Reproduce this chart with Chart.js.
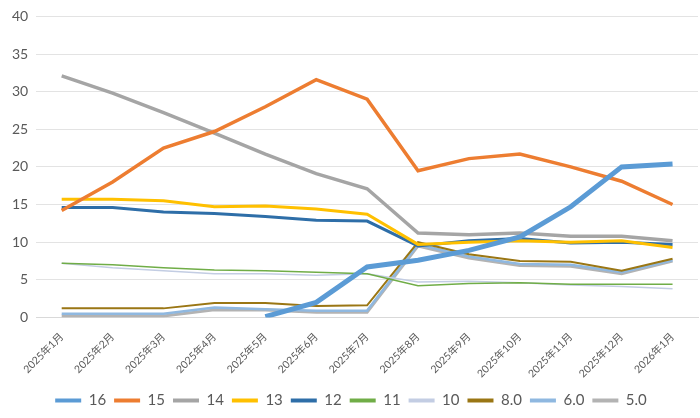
<!DOCTYPE html>
<html>
<head>
<meta charset="utf-8">
<script src="https://cdn.jsdelivr.net/npm/chart.js@4"></script>
<style>
  html, body { margin: 0; padding: 0; background: #fff; }
  #wrap { width: 700px; height: 418px; }
</style>
</head>
<body>
<div id="wrap"><canvas id="myChart"></canvas></div>
<script>
// months on x-axis
const months = ['2025年1月','2025年2月','2025年3月','2025年4月','2025年5月','2025年6月','2025年7月',
                '2025年8月','2025年9月','2025年10月','2025年11月','2025年12月','2026年1月'];

// version shares
const v16  = [null, null, null, null, 0.1, 2.0, 6.7, 7.6, 8.9, 10.7, 14.7, 20.0, 20.4];
const v15  = [14.2, 18.0, 22.5, 24.7, 28.0, 31.6, 29.0, 19.5, 21.1, 21.7, 20.0, 18.1, 15.0];
const v14  = [32.1, 29.8, 27.2, 24.5, 21.7, 19.1, 17.1, 11.2, 11.0, 11.2, 10.8, 10.8, 10.2];
const v13  = [15.7, 15.7, 15.5, 14.7, 14.8, 14.4, 13.7, 9.7, 10.0, 10.2, 10.0, 10.2, 9.3];
const v12  = [14.6, 14.6, 14.0, 13.8, 13.4, 12.9, 12.8, 9.5, 10.2, 10.5, 9.9, 10.0, 9.7];
const v11  = [7.2, 7.0, 6.6, 6.3, 6.2, 6.0, 5.8, 4.2, 4.5, 4.6, 4.4, 4.4, 4.4];
const v10  = [7.2, 6.6, 6.2, 5.8, 5.8, 5.6, 5.8, 4.7, 4.8, 4.6, 4.3, 4.1, 3.8];
const v8_0 = [1.2, 1.2, 1.2, 1.9, 1.9, 1.5, 1.6, 10.0, 8.4, 7.5, 7.4, 6.2, 7.8];
const v6_0 = [0.5, 0.5, 0.5, 1.3, 1.1, 0.9, 0.9, 9.7, 8.1, 7.1, 7.0, 6.0, 7.6];
const v5_0 = [0.2, 0.2, 0.2, 1.0, 1.0, 0.7, 0.7, 9.5, 7.9, 6.9, 6.8, 5.8, 7.5];

const fontFamily = "Lato, 'Noto Sans CJK JP', sans-serif";

function series(label, data, color, width) {
    return {
        label: label,
        data: data,
        borderColor: color,
        backgroundColor: color,
        borderWidth: width,
        pointRadius: 0,
        tension: 0,
        spanGaps: false
    };
}

const data = {
    labels: months,
    datasets: [
        series('16',  v16,  '#5b9bd5', 5),
        series('15',  v15,  '#ed7d31', 3.5),
        series('14',  v14,  '#a5a5a5', 3.5),
        series('13',  v13,  '#ffc000', 3),
        series('12',  v12,  '#2e6ea8', 3),
        series('11',  v11,  '#70ad47', 1.5),
        series('10',  v10,  '#c3cde3', 1.5),
        series('8.0', v8_0, '#9a7614', 2),
        series('6.0', v6_0, '#8fb8e0', 2.5),
        series('5.0', v5_0, '#b3b3b3', 3)
    ]
};

// legend swatches as flat short bars, no outline
function legendLabels(chart) {
    const items = Chart.defaults.plugins.legend.labels.generateLabels(chart);
    items.forEach(item => { item.lineWidth = 0; });
    return items;
}

const config = {
    type: 'line',
    data: data,
    options: {
        responsive: true,
        maintainAspectRatio: false,
        animation: false,
        layout: { padding: { left: 4, right: 2, top: 0, bottom: 0 } },
        plugins: {
            legend: {
                position: 'bottom',
                labels: {
                    boxWidth: 26,
                    boxHeight: 4,
                    padding: 8,
                    color: '#595959',
                    font: { family: fontFamily, size: 15 },
                    generateLabels: legendLabels
                }
            },
            tooltip: { enabled: false }
        },
        scales: {
            x: {
                offset: true,
                grid: { display: false },
                border: { color: '#d9d9d9' },
                ticks: {
                    minRotation: 45,
                    maxRotation: 45,
                    padding: 5,
                    color: '#595959',
                    font: { family: fontFamily, size: 10.5 }
                }
            },
            y: {
                min: 0,
                max: 40,
                ticks: {
                    stepSize: 5,
                    color: '#595959',
                    padding: 8,
                    font: { family: fontFamily, size: 14 }
                },
                grid: { color: '#e3e3e3', drawTicks: false },
                border: { display: false }
            }
        }
    }
};

const myChart = new Chart(document.getElementById('myChart'), config);
</script>
</body>
</html>
